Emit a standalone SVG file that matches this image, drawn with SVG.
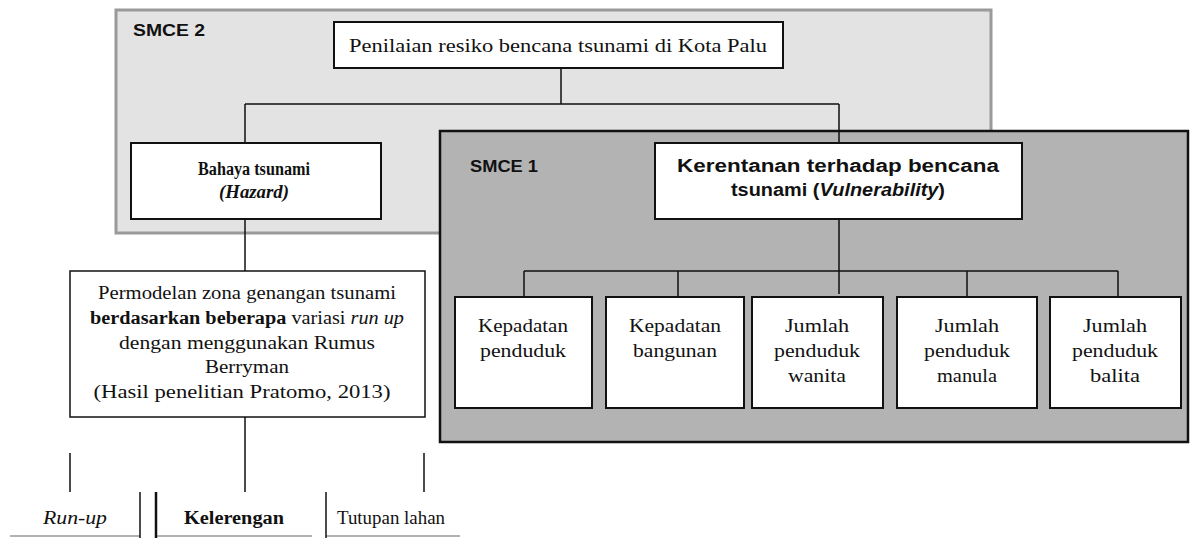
<svg xmlns="http://www.w3.org/2000/svg" width="1190" height="538" viewBox="0 0 1190 538">
<style>
.box{fill:#fff;stroke:#111;stroke-width:2}
.ln{stroke:#111;stroke-width:1.5;fill:none}
.serif{font-family:"Liberation Serif","Times New Roman",serif;font-size:18px;fill:#111}
.sans{font-family:"Liberation Sans",Arial,sans-serif;fill:#111}
.lbl{font-family:"Liberation Sans",Arial,sans-serif;font-weight:bold;font-size:17px;fill:#111}
</style>
<rect width="1190" height="538" fill="#fff"/>
<g id="smce2">
<rect x="116" y="10" width="875" height="223" fill="#e3e3e3" stroke="#9a9a9a" stroke-width="3"/>
<text class="lbl" x="133" y="36" textLength="72" lengthAdjust="spacingAndGlyphs">SMCE 2</text>
</g>
<g id="smce1">
<rect x="440" y="131" width="748" height="311" fill="#b3b3b3" stroke="#111" stroke-width="2.5"/>
<text class="lbl" x="470" y="172" textLength="68" lengthAdjust="spacingAndGlyphs">SMCE 1</text>
</g>
<g id="connectors">
<path class="ln" d="M561 68V104M245 104H839M245 104V143M839 104V143"/>
<path class="ln" d="M245 219V271"/>
<path class="ln" d="M839 219V294M524 271H1118M524 271V297M678 271V297M967 271V297M1118 271V297"/>
<path class="ln" d="M245 417V492M70 453V492M424 453V492"/>
</g>
<g id="n-top">
<rect class="box" x="334" y="22" width="449" height="46"/>
<text class="serif" x="558" y="52" text-anchor="middle" textLength="418" lengthAdjust="spacingAndGlyphs">Penilaian resiko bencana tsunami di Kota Palu</text>
</g>
<g id="n-hazard">
<rect class="box" x="131" y="143" width="250" height="76"/>
<text class="serif" x="254" y="175" text-anchor="middle" font-weight="bold" textLength="112" lengthAdjust="spacingAndGlyphs">Bahaya tsunami</text>
<text class="serif" x="254" y="198" text-anchor="middle" font-weight="bold" font-style="italic" textLength="70" lengthAdjust="spacingAndGlyphs">(Hazard)</text>
</g>
<g id="n-vuln">
<rect class="box" x="655" y="143" width="367" height="76"/>
<text class="sans" x="838" y="172" text-anchor="middle" font-size="18" font-weight="bold" textLength="322" lengthAdjust="spacingAndGlyphs">Kerentanan terhadap bencana</text>
<text class="sans" x="838" y="196" text-anchor="middle" font-size="18" font-weight="bold" textLength="214" lengthAdjust="spacingAndGlyphs">tsunami (<tspan font-style="italic">Vulnerability</tspan>)</text>
</g>
<g id="n-model">
<rect x="70" y="271" width="355" height="146" fill="#fff" stroke="#111" stroke-width="1.5"/>
<text class="serif" x="247" y="299" text-anchor="middle" textLength="298" lengthAdjust="spacingAndGlyphs">Permodelan zona genangan tsunami</text>
<text class="serif" x="247" y="324" text-anchor="middle" textLength="314" lengthAdjust="spacingAndGlyphs"><tspan font-weight="bold">berdasarkan beberapa</tspan> variasi <tspan font-style="italic">run up</tspan></text>
<text class="serif" x="247" y="349" text-anchor="middle" textLength="256" lengthAdjust="spacingAndGlyphs">dengan menggunakan Rumus</text>
<text class="serif" x="247" y="373" text-anchor="middle" textLength="84" lengthAdjust="spacingAndGlyphs">Berryman</text>
<text class="serif" x="242" y="398" text-anchor="middle" textLength="297" lengthAdjust="spacingAndGlyphs">(Hasil penelitian Pratomo, 2013)</text>
</g>
<g id="n-k1">
<rect class="box" x="455" y="297" width="137" height="111"/>
<text class="serif" x="523" y="332" text-anchor="middle" textLength="90" lengthAdjust="spacingAndGlyphs">Kepadatan</text>
<text class="serif" x="523" y="357" text-anchor="middle" textLength="86" lengthAdjust="spacingAndGlyphs">penduduk</text>
</g>
<g id="n-k2">
<rect class="box" x="606" y="297" width="138" height="111"/>
<text class="serif" x="675" y="332" text-anchor="middle" textLength="92" lengthAdjust="spacingAndGlyphs">Kepadatan</text>
<text class="serif" x="675" y="357" text-anchor="middle" textLength="84" lengthAdjust="spacingAndGlyphs">bangunan</text>
</g>
<g id="n-k3">
<rect class="box" x="752" y="297" width="131" height="111"/>
<text class="serif" x="817" y="332" text-anchor="middle" textLength="64" lengthAdjust="spacingAndGlyphs">Jumlah</text>
<text class="serif" x="817" y="357" text-anchor="middle" textLength="86" lengthAdjust="spacingAndGlyphs">penduduk</text>
<text class="serif" x="817" y="382" text-anchor="middle" textLength="58" lengthAdjust="spacingAndGlyphs">wanita</text>
</g>
<g id="n-k4">
<rect class="box" x="897" y="297" width="140" height="111"/>
<text class="serif" x="967" y="332" text-anchor="middle" textLength="64" lengthAdjust="spacingAndGlyphs">Jumlah</text>
<text class="serif" x="967" y="357" text-anchor="middle" textLength="86" lengthAdjust="spacingAndGlyphs">penduduk</text>
<text class="serif" x="967" y="382" text-anchor="middle" textLength="60" lengthAdjust="spacingAndGlyphs">manula</text>
</g>
<g id="n-k5">
<rect class="box" x="1050" y="297" width="131" height="111"/>
<text class="serif" x="1115" y="332" text-anchor="middle" textLength="64" lengthAdjust="spacingAndGlyphs">Jumlah</text>
<text class="serif" x="1115" y="357" text-anchor="middle" textLength="86" lengthAdjust="spacingAndGlyphs">penduduk</text>
<text class="serif" x="1115" y="382" text-anchor="middle" textLength="50" lengthAdjust="spacingAndGlyphs">balita</text>
</g>
<g id="n-runup">
<path d="M10 536H140" stroke="#999" stroke-width="1.5"/>
<path d="M140 492V538" class="ln"/>
<text class="serif" x="75" y="524" text-anchor="middle" font-style="italic" textLength="64" lengthAdjust="spacingAndGlyphs">Run-up</text>
</g>
<g id="n-slope">
<path d="M156 536H312" stroke="#999" stroke-width="1.5"/>
<path d="M156 492V538" stroke="#111" stroke-width="2.5"/>
<text class="serif" x="234" y="524" text-anchor="middle" font-weight="bold" textLength="100" lengthAdjust="spacingAndGlyphs">Kelerengan</text>
</g>
<g id="n-land">
<path d="M326 536H460" stroke="#999" stroke-width="1.5"/>
<path d="M326 492V538" class="ln"/>
<text class="serif" x="391" y="524" text-anchor="middle" textLength="108" lengthAdjust="spacingAndGlyphs">Tutupan lahan</text>
</g>
</svg>
